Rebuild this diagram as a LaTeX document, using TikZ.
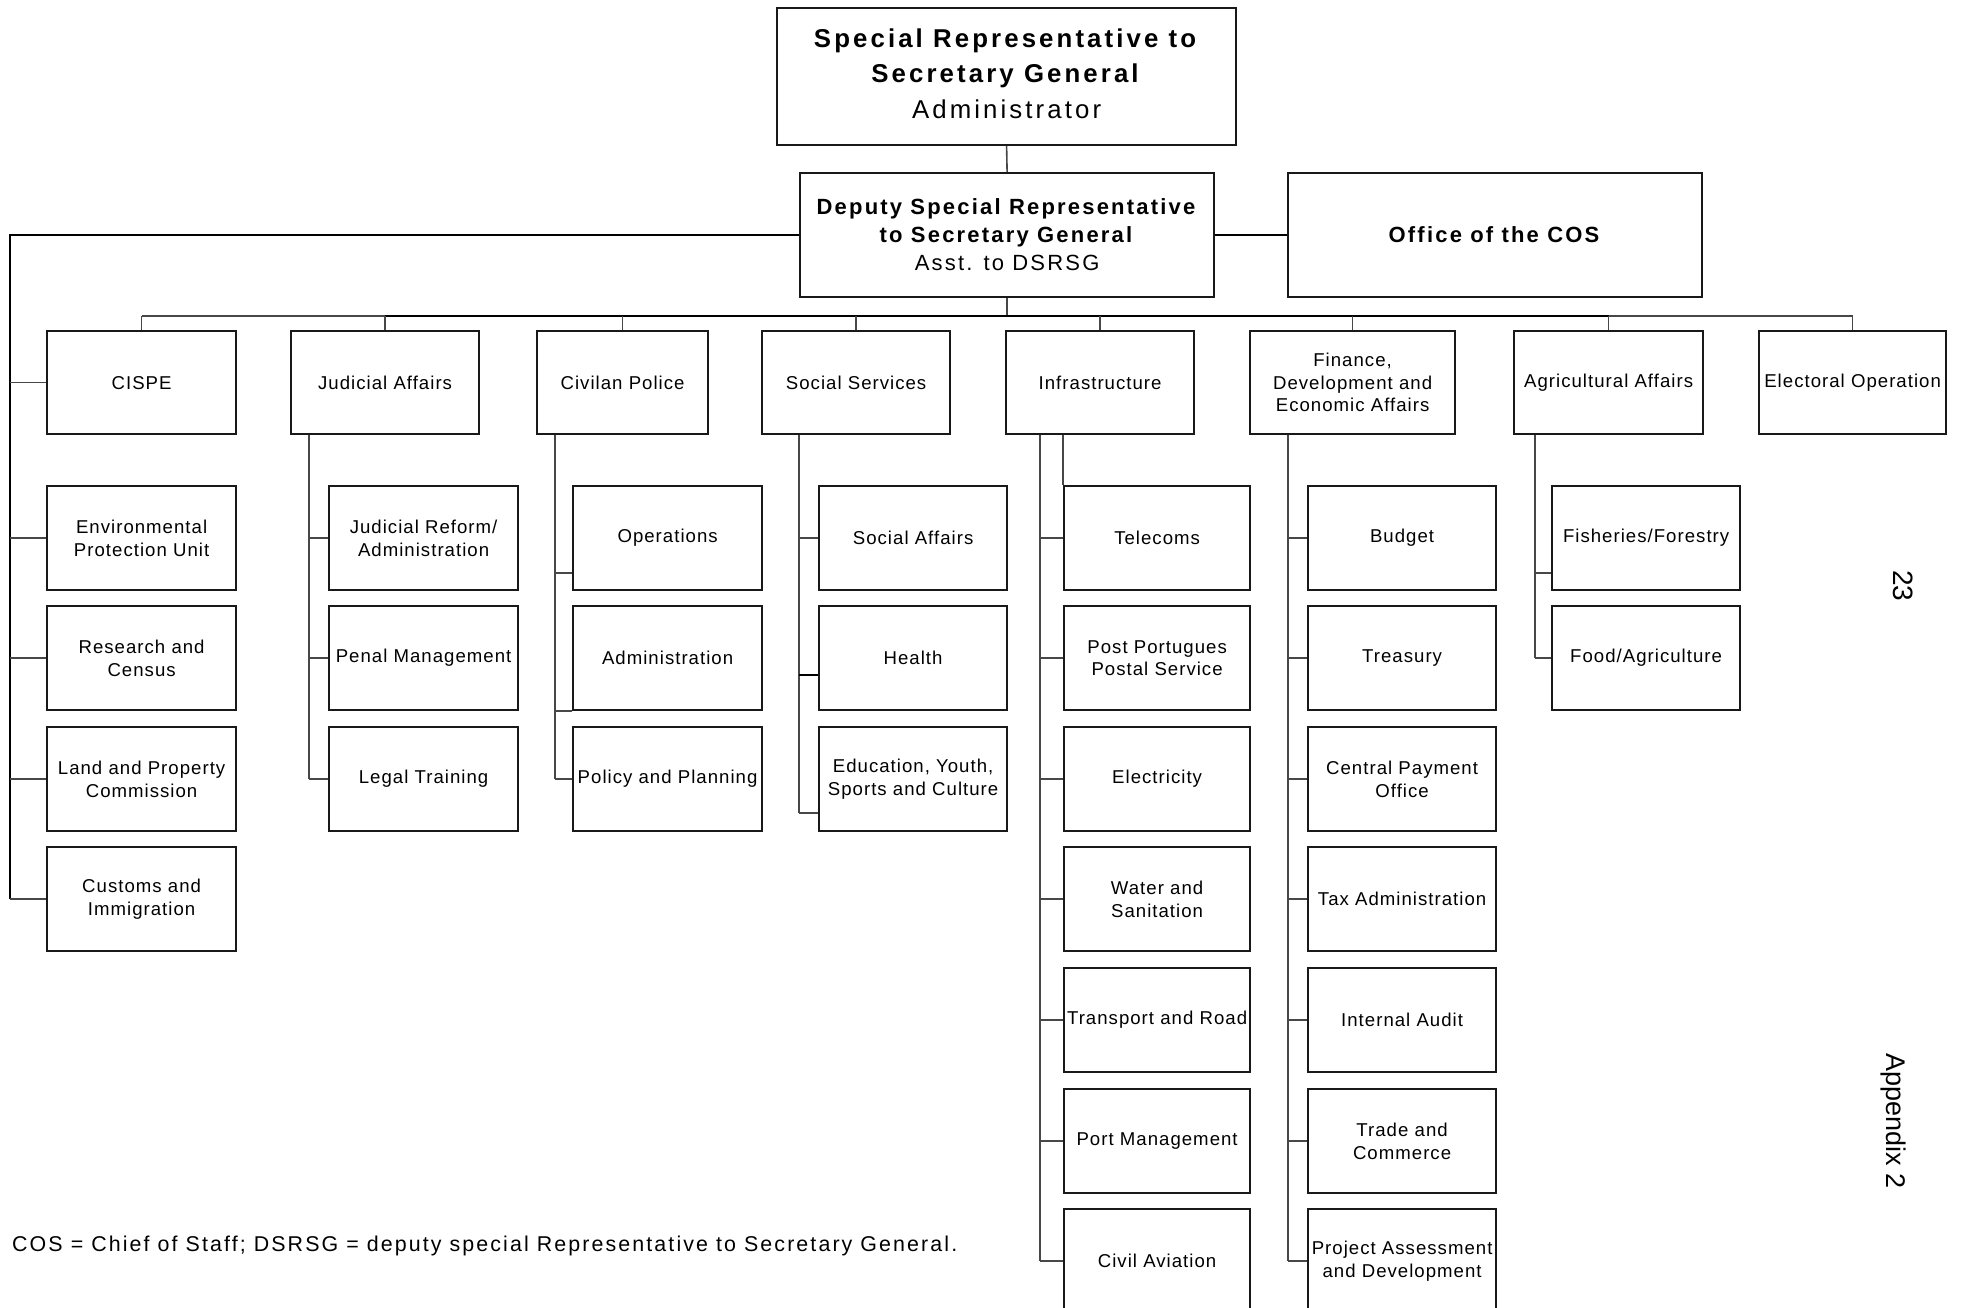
\documentclass[tikz,border=0pt]{standalone}
\usepackage{fontspec}
\setmainfont{Liberation Sans}[LetterSpace=5.5]
\newfontfamily\ftop{Liberation Sans}[LetterSpace=12]
\newfontfamily\fdep{Liberation Sans}[LetterSpace=10]
\newfontfamily\fnote{Liberation Sans}[LetterSpace=9.8]
\newfontfamily\fpage{Liberation Sans}
\usetikzlibrary{calc}
\begin{document}
\begin{tikzpicture}[x=1pt,y=-1pt,
  ubox/.style={draw=black!90,line width=2.2pt,inner sep=0pt,anchor=north west,align=center,
    minimum width=189pt,minimum height=104pt,font=\fontsize{18.6}{22.5}\selectfont},
  conn/.style={draw=black!72,line width=1.6pt},
  blk/.style={draw=black,line width=2pt},
  busblk/.style={draw=black,line width=2.6pt}]
\useasboundingbox (0,0) rectangle (1963,1308);
\clip (0,0) rectangle (1963,1308);
% top levels
\node[ubox,minimum width=459pt,minimum height=137pt,font=\ftop\fontsize{25.8}{35.5}\selectfont] (srsg) at (776,7)
  {\textbf{Special Representative to}\\\textbf{Secretary General}\\Administrator\rule[-6pt]{0pt}{1pt}};
\node[ubox,minimum width=414pt,minimum height=124pt,font=\fdep\fontsize{22}{28}\selectfont] (dsrsg) at (799,172)
  {\textbf{Deputy Special Representative}\\\textbf{to Secretary General}\\Asst. to DSRSG};
\node[ubox,minimum width=414pt,minimum height=124pt,font=\fdep\fontsize{22}{28}\selectfont] (cos) at (1287,172)
  {\textbf{Office of the COS}};
% level 2
\node[ubox,minimum width=189pt,minimum height=103pt] (cispe) at (46,330) {CISPE};
\node[ubox,minimum width=188pt,minimum height=103pt] (jud) at (290,330) {Judicial Affairs};
\node[ubox,minimum width=171pt,minimum height=103pt] (pol) at (536,330) {Civilan Police};
\node[ubox,minimum width=188pt,minimum height=103pt] (soc) at (761,330) {Social Services};
\node[ubox,minimum width=188pt,minimum height=103pt] (inf) at (1005,330) {Infrastructure};
\node[ubox,minimum width=205pt,minimum height=103pt] (fin) at (1249,330) {Finance,\\Development and\\Economic Affairs};
\node[ubox,minimum width=189pt,minimum height=103pt] (agr) at (1513,330) {Agricultural Affairs};
\node[ubox,minimum width=187pt,minimum height=103pt] (ele) at (1758,330) {Electoral Operation};
% CISPE column
\node[ubox] (env) at (46,485) {Environmental\\Protection Unit};
\node[ubox] (res) at (46,605) {Research and\\Census};
\node[ubox] (land) at (46,726) {Land and Property\\Commission};
\node[ubox] (cus) at (46,846) {Customs and\\Immigration};
% Judicial column
\node[ubox] (jrf) at (328,485) {Judicial Reform/\\Administration};
\node[ubox] (jpm) at (328,605) {Penal Management};
\node[ubox] (jlt) at (328,726) {Legal Training};
% Police column
\node[ubox] (pops) at (572,485) {Operations};
\node[ubox] (padm) at (572,605) {Administration};
\node[ubox] (ppp) at (572,726) {Policy and Planning};
% Social column
\node[ubox,minimum width=188pt] (ssa) at (818,485) {Social Affairs};
\node[ubox,minimum width=188pt] (shl) at (818,605) {Health};
\node[ubox,minimum width=188pt] (sed) at (818,726) {Education, Youth,\\Sports and Culture};
% Infrastructure column
\node[ubox,minimum width=186pt] (itel) at (1063,485) {Telecoms};
\node[ubox,minimum width=186pt] (ipost) at (1063,605) {Post Portugues\\Postal Service};
\node[ubox,minimum width=186pt] (iel) at (1063,726) {Electricity};
\node[ubox,minimum width=186pt] (iwat) at (1063,846) {Water and\\Sanitation};
\node[ubox,minimum width=186pt] (itr) at (1063,967) {Transport and Road};
\node[ubox,minimum width=186pt] (iport) at (1063,1088) {Port Management};
\node[ubox,minimum width=186pt] (iciv) at (1063,1208) {Civil Aviation};
% Finance column
\node[ubox,minimum width=188pt] (fbud) at (1307,485) {Budget};
\node[ubox,minimum width=188pt] (ftre) at (1307,605) {Treasury};
\node[ubox,minimum width=188pt] (fcp) at (1307,726) {Central Payment\\Office};
\node[ubox,minimum width=188pt] (ftax) at (1307,846) {Tax Administration};
\node[ubox,minimum width=188pt] (fia) at (1307,967) {Internal Audit};
\node[ubox,minimum width=188pt] (ftc) at (1307,1088) {Trade and\\Commerce};
\node[ubox,minimum width=188pt] (fpa) at (1307,1208) {Project Assessment\\and Development};
% Agricultural column
\node[ubox,minimum width=188pt] (afish) at (1551,485) {Fisheries/Forestry};
\node[ubox,minimum width=188pt] (afood) at (1551,605) {Food/Agriculture};
% texts
\node[anchor=base west,inner sep=0pt,font=\fnote\fontsize{21.4}{26}\selectfont] (note) at (12,1251)
  {COS = Chief of Staff; DSRSG = deputy special Representative to Secretary General.};
\node[anchor=base,inner sep=0pt,rotate=-90,font=\fpage\fontsize{28}{30}\selectfont] (pg) at (1893,586) {23};
\node[anchor=base,inner sep=0pt,rotate=-90,font=\fpage\fontsize{27}{30}\selectfont] (app) at (1886,1121) {Appendix 2};
% connector helper coordinates
\coordinate (bus) at (0,316);
\coordinate (lx) at (10,0);
\coordinate (jx) at (309,0);
\coordinate (px) at (555,0);
\coordinate (sx) at (799,0);
\coordinate (ix) at (1040,0);
\coordinate (fx) at (1288,0);
\coordinate (ax) at (1535,0);
% top connectors
\draw[conn] (srsg.south) -- (dsrsg.north);
\draw[blk] (dsrsg.east) -- (cos.west);
\draw[blk] (dsrsg.west) -| (cus.west -| lx);
\draw[conn] (dsrsg.south) -- (dsrsg.south |- bus);
% bus
\draw[conn] (cispe.north |- bus) -- (jud.north |- bus);
\draw[busblk] (jud.north |- bus) -- (agr.north |- bus);
\draw[conn] (agr.north |- bus) -- (ele.north |- bus);
\foreach \n in {cispe,jud,pol,soc,inf,fin,agr,ele}
  \draw[conn] (\n.north |- bus) -- (\n.north);
% CISPE ticks
\foreach \n in {cispe,env,res,land,cus}
  \draw[conn] (\n.west -| lx) -- (\n.west);
% Judicial
\draw[conn] (jud.south -| jx) -- (jlt.west -| jx);
\foreach \n in {jrf,jpm,jlt}
  \draw[conn] (\n.west -| jx) -- (\n.west);
% Police
\draw[conn] (pol.south -| px) -- (ppp.west -| px);
\draw[conn] ([yshift=-35pt]pops.west -| px) -- ([yshift=-35pt]pops.west);
\draw[conn] (padm.south west -| px) -- (padm.south west);
\draw[conn] (ppp.west -| px) -- (ppp.west);
% Social
\draw[conn] (soc.south -| sx) -- ([yshift=-34pt]sed.west -| sx);
\draw[conn] (ssa.west -| sx) -- (ssa.west);
\draw[blk] ([yshift=-17pt]shl.west -| sx) -- ([yshift=-17pt]shl.west);
\draw[conn] ([yshift=-34pt]sed.west -| sx) -- ([yshift=-34pt]sed.west);
% Infrastructure
\draw[conn] (inf.south -| ix) -- (iciv.west -| ix);
\draw[conn] (inf.south -| itel.north west) -- (itel.north west);
\foreach \n in {itel,ipost,iel,iwat,itr,iport,iciv}
  \draw[conn] (\n.west -| ix) -- (\n.west);
% Finance
\draw[conn] (fin.south -| fx) -- (fpa.west -| fx);
\foreach \n in {fbud,ftre,fcp,ftax,fia,ftc,fpa}
  \draw[conn] (\n.west -| fx) -- (\n.west);
% Agricultural
\draw[conn] (agr.south -| ax) -- (afood.west -| ax);
\draw[conn] ([yshift=-35pt]afish.west -| ax) -- ([yshift=-35pt]afish.west);
\draw[conn] (afood.west -| ax) -- (afood.west);
\end{tikzpicture}
\end{document}
